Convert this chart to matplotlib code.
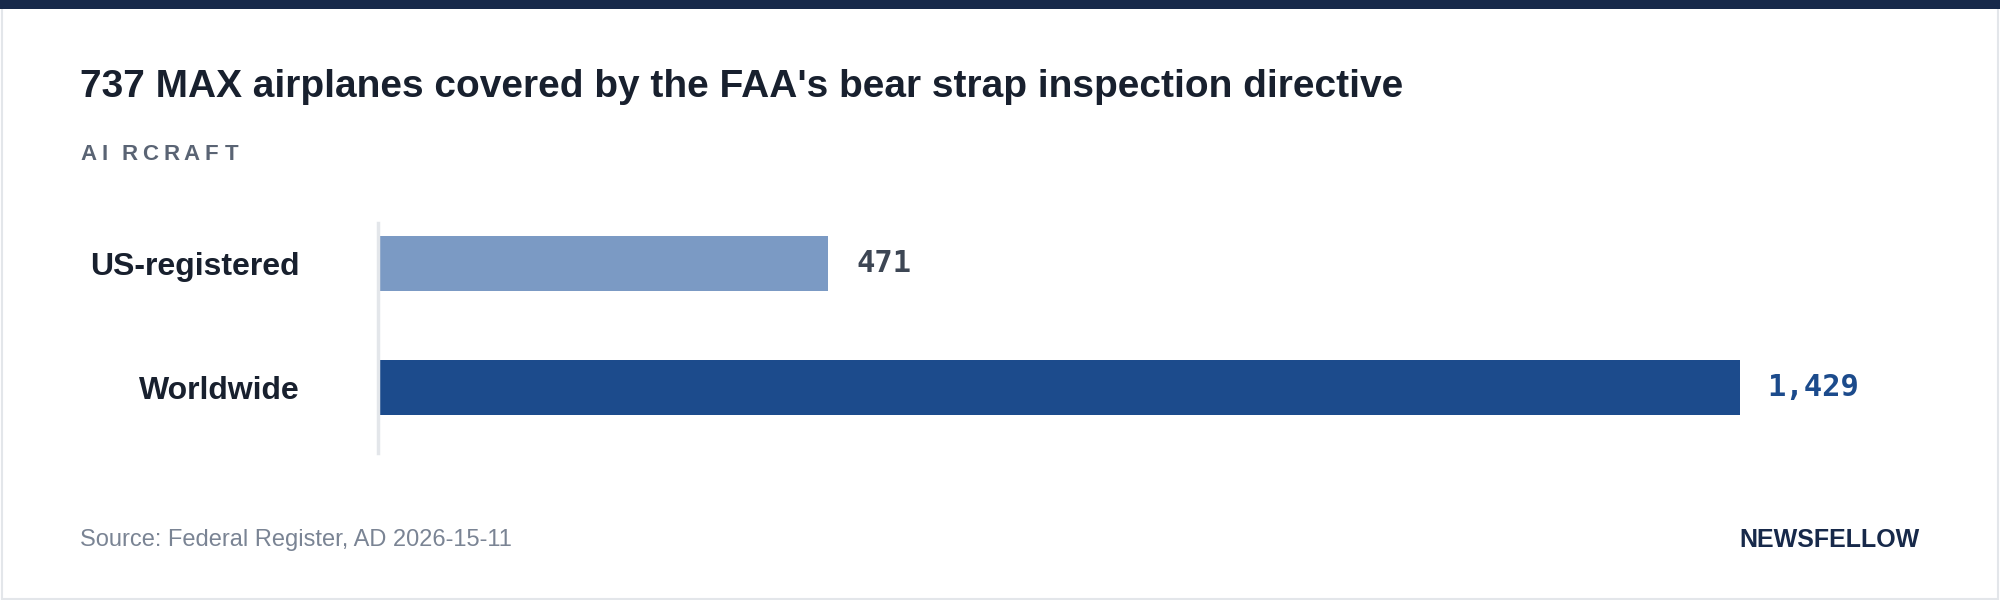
import matplotlib
matplotlib.use("Agg")
import matplotlib.pyplot as plt
from matplotlib.patches import Rectangle

categories = ["US-registered", "Worldwide"]
values = [471, 1429]
value_labels = ["471", "1,429"]
bar_colors = ["#7b9ac4", "#1c4b8c"]
label_colors = ["#3d4654", "#1c4b8c"]

title = "737 MAX airplanes covered by the FAA's bear strap inspection directive"
subtitle = "AIRCRAFT"
source = "Source: Federal Register, AD 2026-15-11"
brand = "NEWSFELLOW"

W, H = 1568, 470  # reference pixel frame used for placement

plt.rcParams["font.family"] = ["Liberation Sans", "DejaVu Sans"]
fig = plt.figure(figsize=(20, 6), dpi=100)
fig.patch.set_facecolor("white")

# frame + top band
fig.add_artist(Rectangle((0.001, 0.002), 0.998, 0.99, transform=fig.transFigure,
                         fill=False, ec="#e3e6ea", lw=1.5))
fig.add_artist(Rectangle((0, 1 - 7 / H), 1, 7 / H, transform=fig.transFigure,
                         color="#17294a", lw=0))

fig.text(63 / W, 1 - 68 / H, title, fontsize=28, fontweight="bold",
         color="#18202e", va="center")
# letter-spaced subtitle, one glyph at a time
sx = 63
for ch in subtitle:
    fig.text(sx / W, 1 - 121 / H, ch, fontsize=16, fontweight="bold",
             color="#5a6474", va="center")
    sx += 16.2
fig.text(63 / W, 1 - 423 / H, source, fontsize=17, color="#7a8494", va="center")
fig.text(1505 / W, 1 - 423 / H, brand, fontsize=18, fontweight="bold",
         color="#17294a", va="center", ha="right")

ax = fig.add_axes([298 / W, 1 - 355 / H, (1364 - 298) / W, 180 / H])
ys = list(range(len(categories)))
ax.barh(ys, values, height=0.443, color=bar_colors, left=0)
ax.set_xlim(0, max(values))
ax.set_ylim(1.531, -0.325)
for s in ax.spines.values():
    s.set_visible(False)
ax.axvline(-2, color="#e3e6ea", lw=2.5, clip_on=False)
ax.set_xticks([])
ax.set_yticks(ys)
ax.set_yticklabels(categories, fontsize=23, fontweight="bold", color="#18202e")
ax.tick_params(axis="y", length=0, pad=58)
for y, v, t, c in zip(ys, values, value_labels, label_colors):
    ax.annotate(t, (v, y), xytext=(20, 0), textcoords="offset points",
                va="center", ha="left", fontsize=22, fontweight="bold",
                color=c, family="DejaVu Sans Mono", annotation_clip=False)

fig.savefig("out.png", dpi=100, facecolor="white")
